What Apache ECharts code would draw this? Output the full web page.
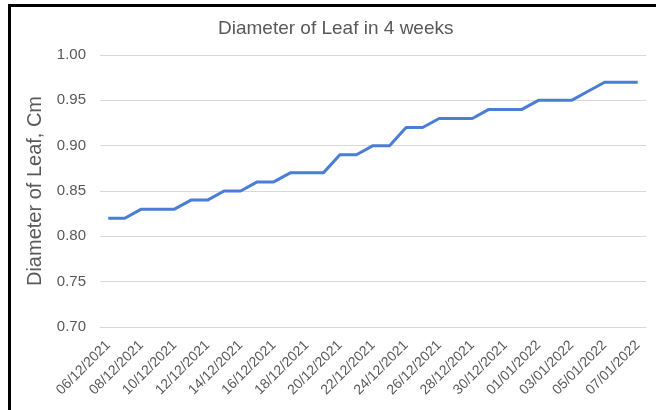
<!DOCTYPE html>
<html>
<head>
<meta charset="utf-8">
<script src="https://cdn.jsdelivr.net/npm/echarts@6/dist/echarts.min.js"></script>
<style>
  html, body { margin: 0; padding: 0; background: #fff; overflow: hidden; }
  #frame { position: absolute; left: 8px; top: 4px; width: 700px; height: 500px; border: 3px solid #000; }
  #leafChart { position: absolute; left: 0; top: 0; width: 656px; height: 410px; }
</style>
</head>
<body>
<div id="frame"></div>
<div id="leafChart"></div>
<script>
// daily dates, 06/12/2021 .. 07/01/2022
var dates = ['06/12/2021','07/12/2021','08/12/2021','09/12/2021','10/12/2021','11/12/2021',
  '12/12/2021','13/12/2021','14/12/2021','15/12/2021','16/12/2021','17/12/2021',
  '18/12/2021','19/12/2021','20/12/2021','21/12/2021','22/12/2021','23/12/2021',
  '24/12/2021','25/12/2021','26/12/2021','27/12/2021','28/12/2021','29/12/2021',
  '30/12/2021','31/12/2021','01/01/2022','02/01/2022','03/01/2022','04/01/2022',
  '05/01/2022','06/01/2022','07/01/2022'];
// diameter in cm
var diameter = [0.82,0.82,0.83,0.83,0.83,0.84,0.84,0.85,0.85,0.86,0.86,0.87,
  0.87,0.87,0.89,0.89,0.90,0.90,0.92,0.92,0.93,0.93,0.93,0.94,
  0.94,0.94,0.95,0.95,0.95,0.96,0.97,0.97,0.97];

var chartDom = document.getElementById('leafChart');
var leafChart = echarts.init(chartDom);
var grey = '#595959';
var font = 'Liberation Sans, Arial, sans-serif';

var option = {
  animation: false,
  title: {
    text: 'Diameter of Leaf in 4 weeks',
    left: 213,
    top: 14,
    textStyle: { color: grey, fontSize: 19, fontWeight: 'normal', fontFamily: font }
  },
  grid: { left: 100, right: 10, top: 55, bottom: 83 },
  xAxis: {
    type: 'category',
    data: dates,
    boundaryGap: true,
    axisLine: { lineStyle: { color: '#d9d9d9' } },
    axisTick: { show: false },
    axisLabel: {
      interval: 1,
      rotate: 45,
      margin: 16,
      color: grey,
      fontSize: 14,
      fontFamily: font
    }
  },
  yAxis: {
    type: 'value',
    min: 0.70,
    max: 1.00,
    interval: 0.05,
    name: 'Diameter of Leaf, Cm',
    nameLocation: 'middle',
    nameGap: 54,
    nameTextStyle: { color: grey, fontSize: 20, fontFamily: font },
    axisLine: { show: false },
    axisTick: { show: false },
    axisLabel: {
      margin: 14,
      color: grey,
      fontSize: 15,
      fontFamily: font,
      formatter: function (v) { return v.toFixed(2); }
    },
    splitLine: { lineStyle: { color: '#d9d9d9', width: 1 } }
  },
  series: [
    {
      type: 'line',
      data: diameter,
      symbol: 'none',
      lineStyle: { color: '#4a7ed6', width: 3 },
      itemStyle: { color: '#4a7ed6' }
    }
  ]
};
option && leafChart.setOption(option);
</script>
</body>
</html>
